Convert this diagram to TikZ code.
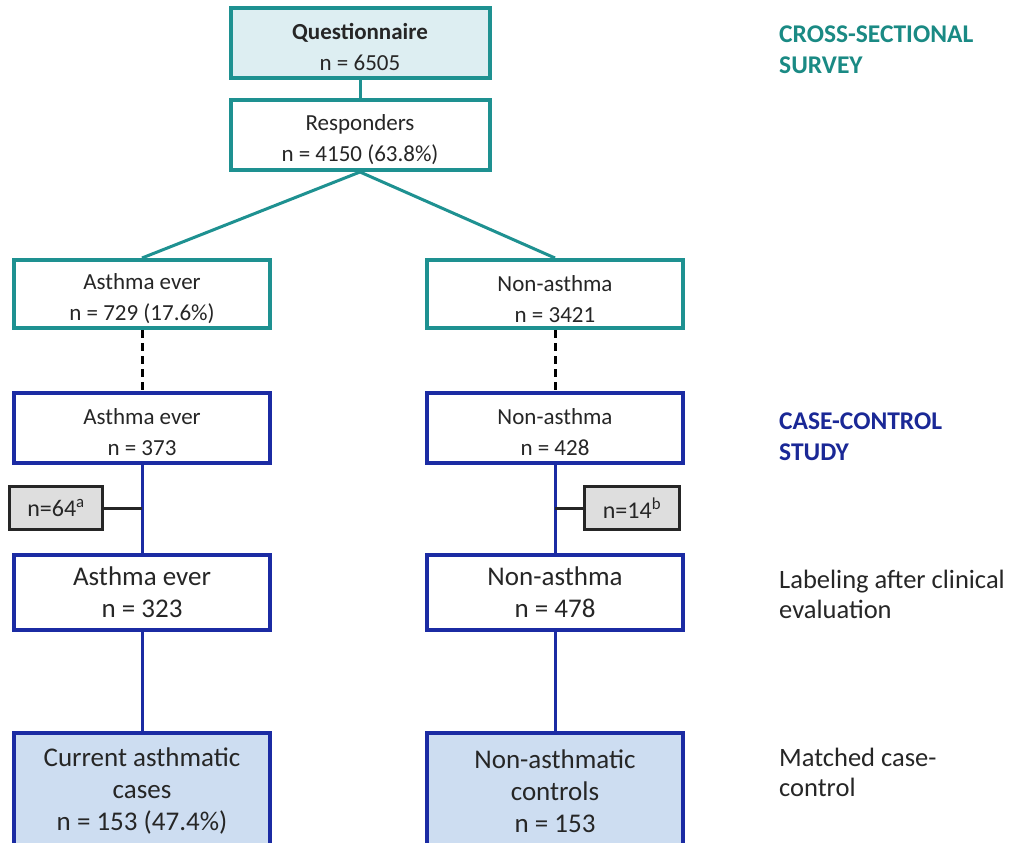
\documentclass[tikz,border=0pt]{standalone}
\usepackage{fontspec}
\setmainfont{Carlito}
\definecolor{teal1}{HTML}{1E9191}
\definecolor{tealtxt}{HTML}{1A8A84}
\definecolor{navy1}{HTML}{1B2BA3}
\definecolor{navytxt}{HTML}{1A2896}
\definecolor{fillA}{HTML}{DDEEF2}
\definecolor{fillB}{HTML}{CDDDF1}
\definecolor{grayfill}{HTML}{DEDEDE}
\definecolor{txt}{HTML}{262626}
\begin{document}
\begin{tikzpicture}[x=1pt,y=-1pt,
  tbox/.style={draw=teal1,line width=4pt,fill=white,inner sep=0pt},
  bbox/.style={draw=navy1,line width=4pt,fill=white,align=center,inner sep=0pt,
    font=\fontsize{23}{31}\selectfont,text=txt},
  bboxL/.style={bbox,font=\fontsize{27}{32}\selectfont},
  btext/.style={align=center,inner sep=0pt,font=\fontsize{23}{31}\selectfont,text=txt},
  gbox/.style={draw=black!85,line width=3pt,fill=grayfill,inner sep=0pt,
    minimum width=93pt,minimum height=43pt,font=\fontsize{24}{26}\selectfont,text=txt},
  tline/.style={draw=teal1,line width=3pt},
  bline/.style={draw=navy1,line width=3pt},
  dline/.style={draw=black,line width=3pt,dash pattern=on 8pt off 5pt},
  kline/.style={draw=black!85,line width=3pt},
  side/.style={anchor=north west,align=left,inner sep=0pt,font=\fontsize{26.5}{30}\selectfont},
]
\useasboundingbox (0,0) rectangle (1015,843);
\fill[white] (0,0) rectangle (1015,843);
% upper boxes (frame + text)
\node[tbox,fill=fillA,minimum width=259pt,minimum height=70pt] (q) at (360,43) {};
\node[btext] (qt) at ([yshift=-4pt]q.center) {\textbf{Questionnaire}\\n = 6505};
\node[tbox,minimum width=259pt,minimum height=70pt] (r) at (360,135) {};
\node[btext] (rt) at ([yshift=-5pt]r.center) {Responders\\n = 4150 (63.8\%)};
\node[tbox,minimum width=256pt,minimum height=68pt] (a1) at (142,294) {};
\node[btext] (a1t) at ([yshift=-5pt]a1.center) {Asthma ever\\n = 729 (17.6\%)};
\node[tbox,minimum width=256pt,minimum height=68pt] (n1) at (555,294) {};
\node[btext] (n1t) at ([yshift=-5pt]n1.center) {Non-asthma\\n = 3421};
\node[bbox,minimum width=256pt,minimum height=70pt] (a2) at (142,428) {};
\node[btext] (a2t) at ([yshift=-4pt]a2.center) {Asthma ever\\n = 373};
\node[bbox,minimum width=256pt,minimum height=70pt] (n2) at (555,428) {};
\node[btext] (n2t) at ([yshift=-4pt]n2.center) {Non-asthma\\n = 428};
% lower boxes
\node[bboxL,minimum width=256pt,minimum height=75pt] (a3) at (142,592)
  {Asthma ever\\n = 323};
\node[bboxL,minimum width=256pt,minimum height=75pt] (n3) at (555,592)
  {Non-asthma\\n = 478};
\node[bboxL,fill=fillB,minimum width=256pt,minimum height=116pt] (c) at (142,791)
  {Current asthmatic\\cases\\n = 153 (47.4\%)};
\node[bboxL,fill=fillB,minimum width=256pt,minimum height=116pt] (k) at (555,791)
  {Non-asthmatic\\controls\\n = 153};
\node[gbox] (g1) at (56,508) {n=64\textsuperscript{a}};
\node[gbox,minimum width=95pt] (g2) at (632,508) {n=14\textsuperscript{b}};
% connectors
\draw[tline] (q.south) -- (r.north);
\draw[tline] (r.south) -- (a1.north);
\draw[tline] (r.south) -- (n1.north);
\draw[dline] (a1.south) -- (a2.north);
\draw[dline] (n1.south) -- (n2.north);
\draw[bline] (a2.south) -- (a3.north);
\draw[bline] (n2.south) -- (n3.north);
\draw[bline] (a3.south) -- (c.north);
\draw[bline] (n3.south) -- (k.north);
\coordinate (j1) at (142,508);
\coordinate (j2) at (555,508);
\draw[kline] (g1.east) -- (j1);
\draw[kline] (g2.west) -- (j2);
% side labels
\node[side,text=tealtxt,font=\fontsize{25.5}{31}\bfseries\selectfont] (s1) at (779,26)
  {CROSS-SECTIONAL\\SURVEY};
\node[side,text=navytxt,font=\fontsize{25.5}{31}\bfseries\selectfont] (s2) at (779,413)
  {CASE-CONTROL\\STUDY};
\node[side,text=txt] (s3) at (779,570)
  {Labeling after clinical\\evaluation};
\node[side,text=txt] (s4) at (779,748)
  {Matched case-\\control};
\end{tikzpicture}
\end{document}
